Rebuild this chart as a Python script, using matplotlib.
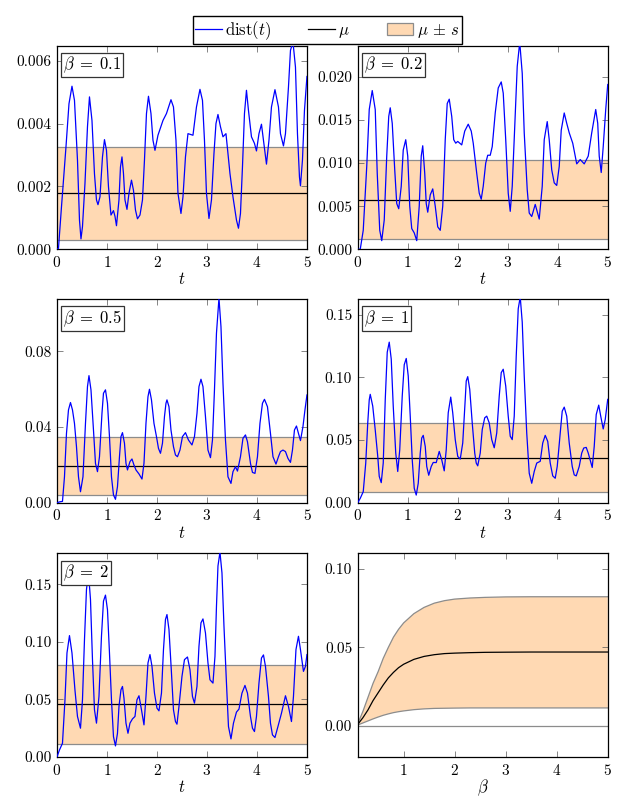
import matplotlib
matplotlib.use("Agg")
import matplotlib.pyplot as plt
from matplotlib.lines import Line2D
from matplotlib.patches import Patch
from matplotlib.ticker import FormatStrFormatter

plt.rcParams["font.family"] = ["cmr10", "DejaVu Serif"]
plt.rcParams["mathtext.fontset"] = "cm"
plt.rcParams["axes.unicode_minus"] = False
plt.rcParams["axes.formatter.use_mathtext"] = True
plt.rcParams["font.size"] = 11

# dist(t) as (t, value) pairs, one list per beta
pts_01 = [(0, 0), (0.03, 0.00003), (0.09, 0.00135), (0.18, 0.00326), (0.24, 0.00463),
          (0.30, 0.00519), (0.35, 0.00474), (0.41, 0.00284), (0.45, 0.00093), (0.48, 0.00033),
          (0.51, 0.00072), (0.56, 0.0021), (0.61, 0.0039), (0.65, 0.00485), (0.70, 0.0041),
          (0.75, 0.0024), (0.79, 0.00157), (0.82, 0.00142), (0.86, 0.00167), (0.91, 0.00294),
          (0.95, 0.00349), (0.99, 0.00315), (1.03, 0.00199), (1.08, 0.00109), (1.13, 0.00123),
          (1.16, 0.00105), (1.19, 0.00075), (1.24, 0.00157), (1.27, 0.00262), (1.30, 0.00294),
          (1.33, 0.00241), (1.36, 0.00157), (1.40, 0.00127), (1.44, 0.00178), (1.49, 0.0022),
          (1.53, 0.00188), (1.57, 0.00125), (1.61, 0.00097), (1.66, 0.00109), (1.71, 0.00157),
          (1.75, 0.00284), (1.79, 0.00432), (1.83, 0.00487), (1.88, 0.00432), (1.92, 0.00347),
          (1.96, 0.00315), (2.02, 0.00363), (2.12, 0.0041), (2.19, 0.00432), (2.28, 0.00476),
          (2.33, 0.00453), (2.38, 0.00347), (2.42, 0.00178), (2.48, 0.00114), (2.52, 0.00167),
          (2.57, 0.00294), (2.62, 0.00368), (2.66, 0.00366), (2.72, 0.00363), (2.79, 0.00453),
          (2.86, 0.00509), (2.91, 0.00474), (2.95, 0.00347), (2.99, 0.00178), (3.04, 0.00098),
          (3.09, 0.00157), (3.14, 0.00305), (3.18, 0.004), (3.22, 0.00429), (3.27, 0.0039),
          (3.32, 0.00358), (3.38, 0.00368), (3.46, 0.00241), (3.52, 0.00167), (3.59, 0.00093),
          (3.63, 0.00067), (3.67, 0.00114), (3.71, 0.00262), (3.75, 0.00432), (3.79, 0.00506),
          (3.83, 0.00442), (3.89, 0.00358), (3.95, 0.00337), (3.99, 0.00313), (4.04, 0.00368),
          (4.09, 0.00398), (4.13, 0.00347), (4.19, 0.00271), (4.24, 0.00347), (4.29, 0.00453),
          (4.36, 0.00508), (4.43, 0.00453), (4.47, 0.00368), (4.53, 0.00329), (4.57, 0.00368),
          (4.63, 0.00516), (4.67, 0.00633), (4.72, 0.0066), (4.77, 0.0058), (4.81, 0.00368),
          (4.85, 0.0023), (4.87, 0.00202), (4.91, 0.00284), (4.95, 0.00442), (5.0, 0.0055)]

pts_02 = [(0, 0), (0.05, 0), (0.11, 0.0022), (0.18, 0.0096), (0.23, 0.0162), (0.29, 0.0184),
          (0.35, 0.0162), (0.39, 0.0088), (0.44, 0.0022), (0.48, 0.0010), (0.53, 0.0034),
          (0.58, 0.0108), (0.62, 0.0154), (0.65, 0.0164), (0.69, 0.0146), (0.74, 0.0092),
          (0.78, 0.0053), (0.82, 0.0047), (0.87, 0.0073), (0.91, 0.0115), (0.96, 0.0127),
          (1.0, 0.0108), (1.04, 0.0050), (1.08, 0.0024), (1.13, 0.0019), (1.18, 0.0010),
          (1.23, 0.0050), (1.27, 0.0108), (1.30, 0.0120), (1.34, 0.0088), (1.37, 0.0053),
          (1.40, 0.0043), (1.45, 0.0063), (1.50, 0.0070), (1.55, 0.0050), (1.60, 0.0026),
          (1.65, 0.0022), (1.70, 0.0050), (1.75, 0.0127), (1.79, 0.0169), (1.83, 0.0174),
          (1.88, 0.0154), (1.92, 0.0127), (1.96, 0.0123), (2.0, 0.0125), (2.08, 0.0121),
          (2.14, 0.0137), (2.21, 0.0145), (2.27, 0.0137), (2.31, 0.0123), (2.38, 0.0088),
          (2.43, 0.0065), (2.47, 0.0058), (2.51, 0.0073), (2.56, 0.0100), (2.60, 0.0109),
          (2.65, 0.0109), (2.69, 0.0119), (2.75, 0.0158), (2.81, 0.0187), (2.87, 0.0194),
          (2.91, 0.0181), (2.96, 0.0127), (3.01, 0.0065), (3.05, 0.0044), (3.09, 0.0073),
          (3.14, 0.0142), (3.19, 0.0212), (3.24, 0.0240), (3.29, 0.0204), (3.33, 0.0135),
          (3.39, 0.0069), (3.43, 0.0042), (3.48, 0.0038), (3.55, 0.0052), (3.63, 0.0035),
          (3.69, 0.0073), (3.73, 0.0127), (3.79, 0.0148), (3.83, 0.0127), (3.88, 0.0092),
          (3.93, 0.0077), (3.98, 0.0074), (4.03, 0.0096), (4.07, 0.0138), (4.13, 0.0158),
          (4.18, 0.0146), (4.23, 0.0135), (4.30, 0.0123), (4.38, 0.0099), (4.45, 0.0104),
          (4.53, 0.0099), (4.61, 0.0108), (4.68, 0.0135), (4.76, 0.0162), (4.80, 0.0146),
          (4.83, 0.0108), (4.87, 0.0089), (4.91, 0.0119), (4.96, 0.0162), (5.0, 0.0191)]

pts_05 = [(0, 0), (0.06, 0.0005), (0.11, 0.0007), (0.15, 0.0137), (0.19, 0.0366), (0.23, 0.049),
          (0.27, 0.0529), (0.31, 0.049), (0.35, 0.0419), (0.39, 0.0296), (0.43, 0.0137),
          (0.47, 0.0058), (0.52, 0.0137), (0.57, 0.0419), (0.61, 0.0613), (0.64, 0.0671),
          (0.68, 0.0596), (0.73, 0.0384), (0.77, 0.0208), (0.81, 0.0164), (0.85, 0.0243),
          (0.90, 0.0472), (0.93, 0.0578), (0.97, 0.0596), (1.01, 0.0525), (1.05, 0.0349),
          (1.09, 0.0137), (1.13, 0.0041), (1.17, 0.0018), (1.21, 0.0085), (1.25, 0.0243),
          (1.28, 0.0349), (1.31, 0.0370), (1.35, 0.0314), (1.38, 0.0208), (1.41, 0.0173),
          (1.46, 0.0217), (1.50, 0.0231), (1.54, 0.0199), (1.58, 0.0173), (1.64, 0.0152),
          (1.70, 0.0125), (1.74, 0.0208), (1.78, 0.0419), (1.82, 0.056), (1.85, 0.0599),
          (1.89, 0.0543), (1.94, 0.0419), (1.99, 0.0349), (2.03, 0.0287), (2.07, 0.0261),
          (2.11, 0.0314), (2.15, 0.0455), (2.18, 0.0525), (2.20, 0.0543), (2.24, 0.0507),
          (2.28, 0.0384), (2.33, 0.0296), (2.37, 0.0252), (2.41, 0.0243), (2.46, 0.0278),
          (2.51, 0.0349), (2.57, 0.0370), (2.63, 0.0331), (2.70, 0.0305), (2.75, 0.0349),
          (2.80, 0.0472), (2.84, 0.0613), (2.88, 0.0652), (2.92, 0.0613), (2.97, 0.0455),
          (3.02, 0.0278), (3.07, 0.0238), (3.11, 0.0331), (3.15, 0.0596), (3.19, 0.0895),
          (3.24, 0.108), (3.28, 0.093), (3.32, 0.0631), (3.37, 0.0331), (3.42, 0.0137),
          (3.48, 0.0102), (3.52, 0.0164), (3.57, 0.019), (3.61, 0.0167), (3.67, 0.0243),
          (3.72, 0.034), (3.77, 0.0358), (3.81, 0.0322), (3.87, 0.0208), (3.91, 0.016),
          (3.96, 0.0155), (4.01, 0.0243), (4.06, 0.0419), (4.11, 0.0525), (4.15, 0.0546),
          (4.21, 0.0507), (4.27, 0.0366), (4.32, 0.0243), (4.38, 0.0204), (4.43, 0.0243),
          (4.47, 0.027), (4.52, 0.0278), (4.57, 0.027), (4.62, 0.0234), (4.67, 0.0213),
          (4.71, 0.0278), (4.75, 0.0384), (4.79, 0.0405), (4.83, 0.0366), (4.87, 0.0328),
          (4.92, 0.0402), (4.96, 0.049), (5.0, 0.0569)]

pts_1 = [(0, 0), (0.05, 0.0035), (0.11, 0.0088), (0.16, 0.0316), (0.20, 0.0636), (0.23, 0.082),
         (0.25, 0.0864), (0.30, 0.077), (0.35, 0.058), (0.40, 0.037), (0.43, 0.021),
         (0.47, 0.016), (0.51, 0.0316), (0.55, 0.082), (0.59, 0.12), (0.63, 0.128),
         (0.67, 0.1145), (0.71, 0.077), (0.76, 0.0396), (0.80, 0.0249), (0.84, 0.0422),
         (0.89, 0.085), (0.93, 0.110), (0.97, 0.115), (1.01, 0.101), (1.05, 0.069),
         (1.09, 0.0342), (1.13, 0.0115), (1.17, 0.0061), (1.21, 0.0155), (1.25, 0.0396),
         (1.28, 0.0516), (1.31, 0.0537), (1.35, 0.0449), (1.38, 0.0289), (1.42, 0.0219),
         (1.47, 0.0289), (1.51, 0.0321), (1.57, 0.032), (1.63, 0.0409), (1.68, 0.0342),
         (1.73, 0.0254), (1.77, 0.0422), (1.81, 0.0717), (1.86, 0.0842), (1.90, 0.0717),
         (1.95, 0.0503), (2.0, 0.0369), (2.05, 0.0348), (2.10, 0.0476), (2.15, 0.0824),
         (2.17, 0.097), (2.20, 0.1005), (2.24, 0.0904), (2.29, 0.0636), (2.34, 0.0396),
         (2.37, 0.0316), (2.40, 0.0294), (2.45, 0.0396), (2.49, 0.0583), (2.54, 0.0677),
         (2.58, 0.069), (2.63, 0.0636), (2.68, 0.0503), (2.73, 0.0438), (2.78, 0.0556),
         (2.83, 0.085), (2.87, 0.1037), (2.91, 0.1064), (2.96, 0.093), (3.01, 0.069),
         (3.05, 0.053), (3.09, 0.0503), (3.13, 0.069), (3.17, 0.117), (3.21, 0.1546),
         (3.25, 0.164), (3.29, 0.144), (3.33, 0.101), (3.38, 0.0556), (3.43, 0.0235),
         (3.48, 0.0155), (3.53, 0.0249), (3.58, 0.0316), (3.65, 0.033), (3.70, 0.0476),
         (3.75, 0.0537), (3.80, 0.0489), (3.85, 0.0316), (3.90, 0.0214), (3.95, 0.0195),
         (3.99, 0.0289), (4.05, 0.0556), (4.09, 0.073), (4.13, 0.0762), (4.18, 0.069),
         (4.23, 0.0476), (4.29, 0.0289), (4.33, 0.0222), (4.37, 0.0214), (4.43, 0.0289),
         (4.48, 0.0396), (4.52, 0.0436), (4.57, 0.0441), (4.61, 0.0396), (4.69, 0.0281),
         (4.73, 0.0449), (4.77, 0.0703), (4.82, 0.0778), (4.86, 0.069), (4.91, 0.0588),
         (4.95, 0.0663), (5.0, 0.0824)]

pts_2 = [(0, 0), (0.05, 0.0061), (0.11, 0.0119), (0.16, 0.0497), (0.20, 0.0904), (0.25, 0.1055),
         (0.30, 0.0904), (0.36, 0.058), (0.41, 0.0352), (0.47, 0.025), (0.51, 0.0497),
         (0.55, 0.102), (0.59, 0.1456), (0.63, 0.160), (0.67, 0.137), (0.71, 0.0846),
         (0.75, 0.041), (0.79, 0.0294), (0.84, 0.0526), (0.89, 0.105), (0.93, 0.1355),
         (0.97, 0.1407), (1.01, 0.128), (1.05, 0.0904), (1.09, 0.0497), (1.13, 0.0177),
         (1.17, 0.0096), (1.21, 0.0206), (1.24, 0.0439), (1.28, 0.0584), (1.31, 0.0613),
         (1.34, 0.0512), (1.38, 0.0294), (1.42, 0.0206), (1.46, 0.0294), (1.51, 0.0331),
         (1.56, 0.0352), (1.60, 0.0497), (1.64, 0.0532), (1.69, 0.041), (1.74, 0.0279),
         (1.78, 0.0526), (1.82, 0.0817), (1.86, 0.0890), (1.90, 0.0788), (1.95, 0.0555),
         (2.0, 0.0424), (2.04, 0.0401), (2.09, 0.0555), (2.13, 0.0933), (2.17, 0.1195),
         (2.20, 0.1238), (2.24, 0.1108), (2.29, 0.073), (2.33, 0.041), (2.37, 0.0308),
         (2.40, 0.0285), (2.44, 0.0439), (2.50, 0.070), (2.55, 0.0846), (2.61, 0.0869),
         (2.66, 0.0759), (2.71, 0.0526), (2.75, 0.0468), (2.80, 0.0613), (2.84, 0.0962),
         (2.88, 0.1166), (2.92, 0.120), (2.97, 0.1078), (3.02, 0.0817), (3.06, 0.0671),
         (3.12, 0.0642), (3.16, 0.0875), (3.19, 0.131), (3.22, 0.166), (3.26, 0.178),
         (3.30, 0.160), (3.34, 0.1137), (3.39, 0.0642), (3.43, 0.0265), (3.48, 0.0157),
         (3.53, 0.0294), (3.59, 0.039), (3.64, 0.0416), (3.70, 0.0555), (3.76, 0.0622),
         (3.81, 0.0555), (3.87, 0.0352), (3.91, 0.025), (3.95, 0.0221), (3.99, 0.0352),
         (4.04, 0.0642), (4.09, 0.086), (4.13, 0.0887), (4.17, 0.0788), (4.23, 0.0526),
         (4.27, 0.0294), (4.31, 0.0192), (4.36, 0.0169), (4.42, 0.0265), (4.49, 0.038),
         (4.57, 0.0532), (4.63, 0.0439), (4.69, 0.0308), (4.73, 0.0526), (4.78, 0.0933),
         (4.83, 0.1049), (4.87, 0.0933), (4.93, 0.0744), (4.97, 0.0788), (5.0, 0.089)]

# mean and spread per beta (mu +- s)
betas = ["0.1", "0.2", "0.5", "1", "2"]
mu = [0.00178, 0.00577, 0.01945, 0.0360, 0.0457]
s = [0.00147, 0.00461, 0.01525, 0.0276, 0.0344]
y_top = [0.00648, 0.0236, 0.1075, 0.1623, 0.177]
y_ticks = [[0, 0.002, 0.004, 0.006], [0, 0.005, 0.01, 0.015, 0.02], [0, 0.04, 0.08],
           [0, 0.05, 0.1, 0.15], [0, 0.05, 0.1, 0.15]]
y_fmt = ["%.3f", "%.3f", "%.2f", "%.2f", "%.2f"]

# summary over beta
beta_grid = [0.1, 0.2, 0.3, 0.4, 0.5, 0.6, 0.7, 0.8, 0.9, 1.0, 1.2, 1.4, 1.6, 1.8, 2.0, 2.3,
             2.6, 3.0, 3.5, 4.0, 5.0]
mu_grid = [0.0008, 0.0050, 0.0100, 0.0160, 0.0210, 0.0260, 0.0305, 0.0340, 0.0370, 0.0392,
           0.0423, 0.0442, 0.0453, 0.0460, 0.0463, 0.0466, 0.0468, 0.0469, 0.0470, 0.0470, 0.0470]
hi_grid = [0.0012, 0.0090, 0.0180, 0.0270, 0.0345, 0.0430, 0.0500, 0.0565, 0.0615, 0.0656,
           0.0715, 0.0755, 0.0782, 0.0798, 0.0808, 0.0815, 0.0819, 0.0822, 0.0823, 0.0823, 0.0823]
lo_grid = [0.0004, 0.0017, 0.0030, 0.0043, 0.0055, 0.0066, 0.0075, 0.0083, 0.0089, 0.0094,
           0.0102, 0.0107, 0.0110, 0.0111, 0.0112, 0.0113, 0.0113, 0.0113, 0.0113, 0.0113, 0.0113]

band_color = "#ffd9b3"
edge_gray = "#8c8c8c"


def style_axes(ax):
    # pgfplots look: ticks inside on all four sides
    ax.tick_params(direction="in", top=True, right=True, length=4, width=0.5,
                   color="#555555", labelsize=11, pad=4)
    for sp in ax.spines.values():
        sp.set_linewidth(0.9)


def panel(ax, pts, k):
    t = [p[0] for p in pts]
    d = [p[1] for p in pts]
    ax.axhspan(mu[k] - s[k], mu[k] + s[k], facecolor=band_color, edgecolor="none", zorder=1)
    ax.axhline(mu[k] - s[k], color=edge_gray, lw=0.9, zorder=2)
    ax.axhline(mu[k] + s[k], color=edge_gray, lw=0.9, zorder=2)
    ax.axhline(mu[k], color="black", lw=0.9, zorder=3)
    ax.plot(t, d, color="blue", lw=0.9, zorder=4)
    ax.set_xlim(0, 5)
    ax.set_ylim(0, y_top[k])
    ax.set_xticks([0, 1, 2, 3, 4, 5])
    ax.set_yticks(y_ticks[k])
    ax.yaxis.set_major_formatter(FormatStrFormatter(y_fmt[k]))
    ax.set_xlabel("$t$", fontsize=12, labelpad=1)
    ax.text(0.025, 0.955, r"$\beta\;=\;%s$" % betas[k], transform=ax.transAxes, fontsize=12,
            va="top", ha="left", zorder=5,
            bbox=dict(boxstyle="square,pad=0.12", facecolor="white", edgecolor="#333333", lw=0.9))
    style_axes(ax)


fig = plt.figure(figsize=(6.2, 8.0), dpi=100)

w, h = 0.4032, 0.2545
lefts = [0.0919, 0.577]
bottoms = [0.6884, 0.3716, 0.0538]

series = [pts_01, pts_02, pts_05, pts_1, pts_2]
for k, pts in enumerate(series):
    ax = fig.add_axes([lefts[k % 2], bottoms[k // 2], w, h])
    panel(ax, pts, k)

# last panel: mean and band against beta
ax = fig.add_axes([lefts[1], bottoms[2], w, h])
ax.fill_between(beta_grid, lo_grid, hi_grid, facecolor=band_color, edgecolor="none", zorder=1)
ax.plot(beta_grid, lo_grid, color=edge_gray, lw=0.9, zorder=2)
ax.plot(beta_grid, hi_grid, color=edge_gray, lw=0.9, zorder=2)
ax.axhline(0, color=edge_gray, lw=0.9, zorder=2)
ax.plot(beta_grid, mu_grid, color="black", lw=0.9, zorder=3)
ax.set_xlim(0.1, 5)
ax.set_ylim(-0.02, 0.11)
ax.set_xticks([1, 2, 3, 4, 5])
ax.set_yticks([0, 0.05, 0.1])
ax.yaxis.set_major_formatter(FormatStrFormatter("%.2f"))
ax.set_xlabel(r"$\beta$", fontsize=12, labelpad=0)
style_axes(ax)

handles = [Line2D([], [], color="blue", lw=0.9),
           Line2D([], [], color="black", lw=0.9),
           Patch(facecolor=band_color, edgecolor=edge_gray, lw=0.9)]
labels = [r"$\mathrm{dist}(t)$", r"$\mu$", r"$\mu\,\pm\,s$"]
fig.legend(handles, labels, loc="upper center", bbox_to_anchor=(0.528, 0.99), ncol=3,
           frameon=True, fancybox=False, edgecolor="black", framealpha=1, fontsize=12,
           handlelength=1.6, handletextpad=0.2, columnspacing=2.2, borderpad=0.15)

fig.savefig("out.png", dpi=100)
